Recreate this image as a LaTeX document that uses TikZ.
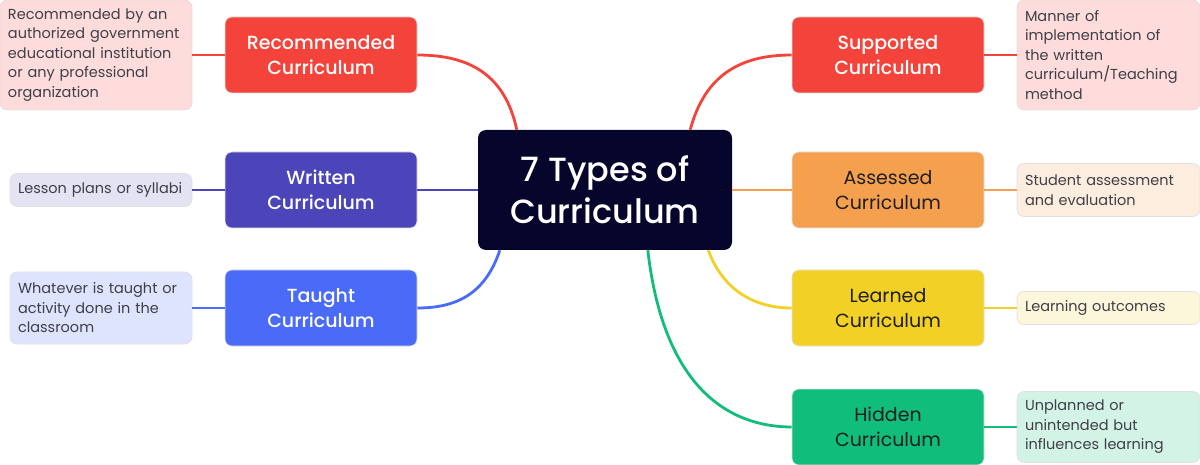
\documentclass[tikz,border=0pt]{standalone}
\usepackage{fontspec}
\setmainfont{Poppins}
\newfontfamily\medfont{Poppins Medium}
\definecolor{centre}{HTML}{06052C}
\definecolor{redbr}{HTML}{F4433A}
\definecolor{rednote}{HTML}{FDDCDB}
\definecolor{writbr}{HTML}{4B45B9}
\definecolor{writnote}{HTML}{E3E3F3}
\definecolor{taubr}{HTML}{4A6AF8}
\definecolor{taunote}{HTML}{DEE4FD}
\definecolor{assbr}{HTML}{F5A04F}
\definecolor{assnote}{HTML}{FDEDDF}
\definecolor{learnbr}{HTML}{F2D025}
\definecolor{learnnote}{HTML}{FCF7DA}
\definecolor{hidbr}{HTML}{10BD7B}
\definecolor{hidnote}{HTML}{D3F3E7}
\definecolor{notetext}{HTML}{3F3F48}
\begin{document}
\begin{tikzpicture}[x=1pt, y=-1pt,
    topic/.style={rounded corners=7pt, minimum width=192pt, minimum height=76pt, align=center,
      font=\medfont\fontsize{19}{25}\selectfont, text=white, draw=black!12, line width=0.6pt},
    darktopic/.style={topic, font=\fontsize{19}{25}\selectfont, text=black!88},
    note/.style={rounded corners=7pt, text width=176pt, inner xsep=8pt, align=left,
      font=\fontsize{14.5}{19.5}\selectfont, text=notetext, draw=black!12, line width=0.6pt},
    branch/.style={line width=2.8pt},
    twig/.style={line width=2.2pt}]
  \useasboundingbox (0,0) rectangle (1200,465);
  % centre
  \node[rounded corners=8pt, fill=centre, text=white, minimum width=254pt, minimum height=120pt,
    align=center, font=\medfont\fontsize{33.5}{42}\selectfont] (cen) at (605,190) {7 Types of\\Curriculum};
  % branches
  \node[topic, fill=redbr] (rec) at (321,55) {Recommended\\Curriculum};
  \node[topic, fill=writbr] (writ) at (321,190) {Written\\Curriculum};
  \node[topic, fill=taubr] (tau) at (321,308) {Taught\\Curriculum};
  \node[topic, fill=redbr] (sup) at (888,55) {Supported\\Curriculum};
  \node[darktopic, fill=assbr] (ass) at (888,190) {Assessed\\Curriculum};
  \node[darktopic, fill=learnbr] (learn) at (888,308) {Learned\\Curriculum};
  \node[darktopic, fill=hidbr] (hid) at (888,427) {Hidden\\Curriculum};
  % notes
  \node[note, fill=rednote, minimum height=110pt] (recn) at (96,55)
    {Recommended by an\\authorized government\\educational institution\\or any professional\\organization};
  \node[note, fill=writnote, text width=166pt, minimum height=33pt] (writn) at (101,190) {Lesson plans or syllabi};
  \node[note, fill=taunote, text width=166pt, minimum height=72pt] (taun) at (101,308)
    {Whatever is taught or\\activity done in the\\classroom};
  \node[note, fill=rednote, text width=167pt, minimum height=110pt] (supn) at (1108.5,55)
    {Manner of\\implementation of\\the written\\curriculum/Teaching\\method};
  \node[note, fill=assnote, text width=167pt, minimum height=53pt] (assn) at (1108.5,190)
    {Student assessment\\and evaluation};
  \node[note, fill=learnnote, text width=167pt, minimum height=33pt] (learnn) at (1108.5,308) {Learning outcomes};
  \node[note, fill=hidnote, text width=167pt, minimum height=71pt] (hidn) at (1108.5,427)
    {Unplanned or\\unintended but\\influences learning};
  % connectors
  \draw[branch, redbr] ([xshift=39pt]cen.north west) .. controls (505,75) and (470,55) .. (rec.east);
  \draw[branch, redbr] ([xshift=-42pt]cen.north east) .. controls (705,75) and (740,55) .. (sup.west);
  \draw[branch, writbr] (cen.west) -- (writ.east);
  \draw[branch, assbr] (cen.east) -- (ass.west);
  \draw[branch, taubr] ([xshift=22pt]cen.south west) .. controls (485,295) and (455,308) .. (tau.east);
  \draw[branch, learnbr] ([xshift=-24pt]cen.south east) .. controls (725,295) and (760,308) .. (learn.west);
  \draw[branch, hidbr] ([xshift=170pt]cen.south west) .. controls (665,400) and (740,427) .. (hid.west);
  \draw[twig, redbr] (rec.west) -- (recn.east);
  \draw[twig, writbr] (writ.west) -- (writn.east);
  \draw[twig, taubr] (tau.west) -- (taun.east);
  \draw[twig, redbr] (sup.east) -- (supn.west);
  \draw[twig, assbr] (ass.east) -- (assn.west);
  \draw[twig, learnbr] (learn.east) -- (learnn.west);
  \draw[twig, hidbr] (hid.east) -- (hidn.west);
\end{tikzpicture}
\end{document}
